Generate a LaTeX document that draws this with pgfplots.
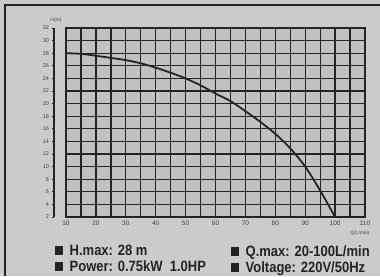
\documentclass[border=0pt]{standalone}
\usepackage{pgfplots}
\pgfplotsset{compat=1.18}
\usepackage{fontspec}
\setmainfont{Liberation Sans}
\definecolor{bg}{RGB}{203,203,205}
\definecolor{cell}{RGB}{193,193,196}
\definecolor{ink}{RGB}{35,35,40}
\definecolor{lab}{RGB}{65,65,70}
\begin{document}
\begin{tikzpicture}[x=1pt,y=1pt]
\fill[bg] (0,0) rectangle (380,276);
\draw[ink, line width=1.3pt] (5,0) -- (5,271) -- (380,271);
\begin{axis}[at={(66pt,59pt)}, anchor=south west, scale only axis,
  width=299pt, height=189pt,
  xmin=10, xmax=110, ymin=2, ymax=32,
  xtick={10,20,...,110}, minor xtick={15,25,...,105},
  ytick={2,4,...,32}, yticklabels={},
  grid=both,
  major grid style={ink, line width=1.3pt},
  minor grid style={ink, line width=1.3pt},
  axis line style={ink, line width=1.3pt},
  major tick length=0pt, minor tick length=0pt,
  axis background/.style={fill=cell},
  xticklabel style={font=\fontsize{6.5}{7}\selectfont, text=lab},
  /pgf/number format/assume math mode=true,
  clip=false]
\addplot[ink, line width=1.8pt, smooth, tension=0.5] coordinates {
(10,28) (15,27.9) (20,27.6) (25,27.25) (30,26.9) (35,26.4) (40,25.7)
(45,24.9) (50,24.0) (55,22.9) (60,21.6) (65,20.4) (70,18.8) (75,17.1)
(80,15.2) (85,12.9) (90,10) (95,6.2) (100,2)};
\end{axis}
\begin{axis}[at={(54pt,59pt)}, anchor=south west, scale only axis,
  width=1pt, height=189pt,
  xmin=0, xmax=1, ymin=2, ymax=32,
  hide x axis, axis y line*=left,
  ytick={2,4,...,32}, tick align=outside,
  y axis line style={ink, line width=1.4pt},
  major tick style={ink, line width=0.8pt}, major tick length=2.5pt,
  yticklabel style={font=\fontsize{5.5}{6}\selectfont, text=lab, xshift=1pt},
  /pgf/number format/assume math mode=true]
\addplot[draw=none] coordinates {(0,2) (1,32)};
\end{axis}
\node[font=\fontsize{5}{6}\selectfont, text=lab] at (56,255.5) {H(m)};
\node[font=\fontsize{4.8}{5}\selectfont, text=lab] at (360,42.5) {Q(L/min)};
\node[anchor=base west, inner sep=0pt, text=ink] at (55,21)
  {\scalebox{1}[1.15]{\fontsize{13}{15}\selectfont\bfseries\rule{7.5pt}{7.5pt}\hspace{7pt}H.max: 28 m}};
\node[anchor=base west, inner sep=0pt, text=ink] at (55,5)
  {\scalebox{1}[1.15]{\fontsize{13}{15}\selectfont\bfseries\rule{7.5pt}{7.5pt}\hspace{7pt}Power: 0.75kW\ \ 1.0HP}};
\node[anchor=base west, inner sep=0pt, text=ink] at (231,20)
  {\scalebox{1}[1.15]{\fontsize{13}{15}\selectfont\bfseries\rule{7.5pt}{7.5pt}\hspace{7pt}Q.max: 20-100L/min}};
\node[anchor=base west, inner sep=0pt, text=ink] at (231,4)
  {\scalebox{1}[1.15]{\fontsize{13}{15}\selectfont\bfseries\rule{7.5pt}{7.5pt}\hspace{7pt}Voltage: 220V/50Hz}};
\pgfresetboundingbox
\path[use as bounding box] (0,0) rectangle (380,276);
\end{tikzpicture}
\end{document}
